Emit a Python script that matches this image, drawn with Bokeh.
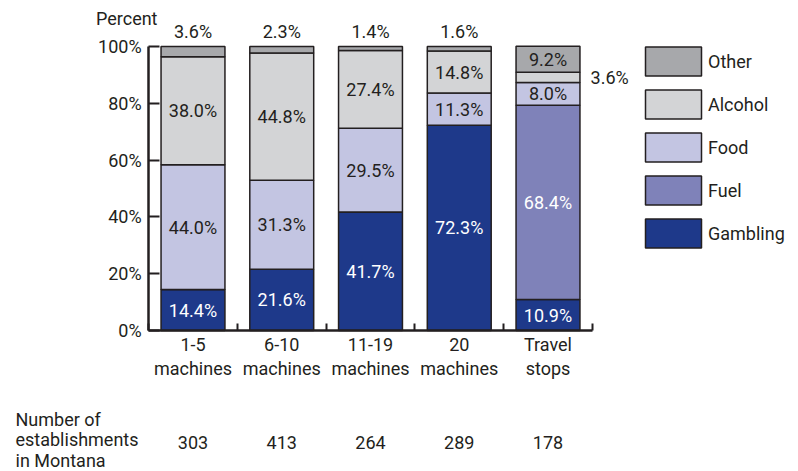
from bokeh.plotting import figure
from bokeh.models import (Range1d, FixedTicker, Legend, LegendItem, ColumnDataSource,
                          LabelSet, Label)
from bokeh.core.properties import value
from bokeh.embed import file_html
from bokeh.resources import INLINE

# ---------------- data ----------------
categories = ["1-5\nmachines", "6-10\nmachines", "11-19\nmachines", "20\nmachines", "Travel\nstops"]
series_names = ["Gambling", "Fuel", "Food", "Alcohol", "Other"]
gambling = [14.4, 21.6, 41.7, 72.3, 10.9]
fuel = [0.0, 0.0, 0.0, 0.0, 68.4]
food = [44.0, 31.3, 29.5, 11.3, 8.0]
alcohol = [38.0, 44.8, 27.4, 14.8, 3.6]
other = [3.6, 2.3, 1.4, 1.6, 9.2]
establishments = [303, 413, 264, 289, 178]
y_ticks = [0, 20, 40, 60, 80, 100]

# ---------------- style ----------------
FONT = "Roboto"
FS = "18px"
DARK = "#231f20"
colors = ["#1e398a", "#7f82b9", "#c3c5e2", "#d3d4d6", "#a7a8ab"]
label_colors = ["white", "white", DARK, DARK, DARK]
BAR_W = 0.72

xs = list(range(len(categories)))
series = [gambling, fuel, food, alcohol, other]
data = {"x": xs}
for name, vals in zip(series_names, series):
    data[name] = vals
src = ColumnDataSource(data)

p = figure(frame_width=798, frame_height=471,
           min_border_left=0, min_border_right=0, min_border_top=0, min_border_bottom=0,
           x_range=Range1d(-2.16901, 6.82254), y_range=Range1d(-49.648, 116.197),
           output_backend="svg", toolbar_location=None, tools="")
p.outline_line_color = None
p.grid.grid_line_color = None
p.background_fill_color = "white"
p.border_fill_color = "white"

renderers = p.vbar_stack(series_names, x="x", width=BAR_W, source=src,
                         fill_color=colors, line_color=DARK, line_width=1.5)

# ---------------- axes ----------------
ya = p.yaxis[0]
ya.fixed_location = -0.5
ya.ticker = FixedTicker(ticks=y_ticks, minor_ticks=[])
ya.major_label_overrides = {t: f"{t}%" for t in y_ticks}
ya.bounds = (0, 100)
ya.axis_line_width = 2.5
ya.axis_line_color = DARK
ya.major_tick_in = 11
ya.major_tick_out = 0
ya.major_tick_line_width = 2
ya.major_tick_line_color = DARK
ya.major_label_standoff = 7
ya.major_label_text_font = FONT
ya.major_label_text_font_size = FS
ya.major_label_text_color = DARK

xa = p.xaxis[0]
xa.fixed_location = 0
xa.ticker = FixedTicker(ticks=xs, minor_ticks=[i + 0.5 for i in range(-1, len(xs))])
xa.major_label_overrides = {i: c for i, c in zip(xs, categories)}
xa.bounds = (-0.5, len(xs) - 0.5)
xa.axis_line_width = 2.5
xa.axis_line_color = DARK
xa.major_tick_line_color = None
xa.major_tick_in = 0
xa.major_tick_out = 0
xa.minor_tick_in = 7
xa.minor_tick_out = 0
xa.minor_tick_line_width = 2
xa.minor_tick_line_color = DARK
xa.major_label_standoff = 4
xa.major_label_text_font = FONT
xa.major_label_text_font_size = FS
xa.major_label_text_color = DARK
xa.major_label_text_line_height = 1.13

# ---------------- value labels ----------------
lx, ly, lt, lc, la = [], [], [], [], []
for i in xs:
    base = 0.0
    for k, vals in enumerate(series):
        v = vals[i]
        if v <= 0:
            continue
        top_seg = (k == len(series) - 1)
        if v >= 5:
            lx.append(i); ly.append(base + v / 2); la.append("center")
        elif top_seg:
            lx.append(i); ly.append(100 + 5.3); la.append("center")
        else:
            lx.append(i + BAR_W / 2 + 0.12); ly.append(base + v / 2); la.append("left")
        lt.append(f"{v:.1f}%")
        lc.append(label_colors[k] if v >= 5 else DARK)
        base += v

lab_src = ColumnDataSource(dict(x=lx, y=ly, text=lt, color=lc, align=la))
p.add_layout(LabelSet(x="x", y="y", text="text", source=lab_src,
                      text_color="color", text_align="align", text_baseline="middle",
                      text_font=value(FONT), text_font_size=value(FS)))

# ---------------- counts row ----------------
ROW_Y = -39.44
cnt_src = ColumnDataSource(dict(x=xs, y=[ROW_Y] * len(xs), text=[str(n) for n in establishments]))
p.add_layout(LabelSet(x="x", y="y", text="text", source=cnt_src,
                      text_color=DARK, text_align="center", text_baseline="middle",
                      text_font=value(FONT), text_font_size=value(FS)))
p.add_layout(Label(x=-2.0, y=ROW_Y + 0.9, text="Number of\nestablishments\nin Montana",
                   text_color=DARK, text_align="left", text_baseline="middle",
                   text_font=FONT, text_font_size=FS, text_line_height=0.96))
p.add_layout(Label(x=-0.4, y=109.86, text="Percent", text_color=DARK,
                   text_align="right", text_baseline="middle",
                   text_font=FONT, text_font_size=FS))

# ---------------- legend ----------------
items = [LegendItem(label=n, renderers=[r]) for n, r in reversed(list(zip(series_names, renderers)))]
legend = Legend(items=items, location=(638, 220), orientation="vertical",
                glyph_width=70, glyph_height=36, spacing=7, label_standoff=0,
                padding=0, margin=0, border_line_color=None, background_fill_alpha=0,
                label_text_font=FONT, label_text_font_size=FS, label_text_color=DARK,
                label_text_baseline="middle")
p.add_layout(legend)

open("out.html", "w").write(file_html(p, INLINE))
